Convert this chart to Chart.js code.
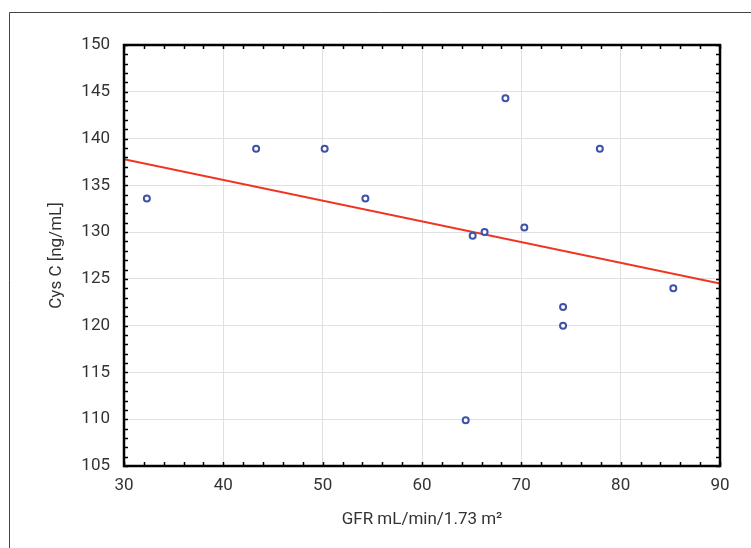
<!DOCTYPE html>
<html>
<head>
<meta charset="utf-8">
<script src="https://cdn.jsdelivr.net/npm/chart.js@4/dist/chart.umd.min.js"></script>
<style>
  html, body { margin: 0; padding: 0; background: #fff; }
  #wrap { width: 751px; height: 548px; }
</style>
</head>
<body>
<div id="wrap"><canvas id="chart" width="751" height="548"></canvas></div>
<script>
'use strict'

// GFR (x) vs Cys C (y)
var gfr = [32.3, 43.3, 50.2, 54.3, 65.1, 66.3, 68.4, 70.3, 77.9, 74.2, 74.2, 64.4, 85.3]
var cysC = [133.6, 138.9, 138.9, 133.6, 129.6, 130.0, 144.3, 130.5, 138.9, 122.0, 120.0, 109.9, 124.0]

// regression line end points
var fitX = [30, 90]
var fitY = [137.8, 124.5]

var xTicks = [30, 40, 50, 60, 70, 80, 90]
var yTicks = [105, 110, 115, 120, 125, 130, 135, 140, 145, 150]

var fontFamily = '"Liberation Sans Narrow", "Arial Narrow", Roboto, sans-serif'
var textColor = '#333'

// box frame with inward minor ticks, plus the outer figure frame
var framePlugin = {
  id: 'frame',
  afterDatasetsDraw: function(chart) {
    var ctx = chart.ctx
    var a = chart.chartArea
    var xs = chart.scales.x
    var ys = chart.scales.y
    ctx.save()
    ctx.strokeStyle = '#000'
    ctx.lineWidth = 1.5
    ctx.beginPath()
    for (var v = 30; v <= 90; v += 2) {
      var px = Math.round(xs.getPixelForValue(v)) + 0.5
      ctx.moveTo(px, a.bottom); ctx.lineTo(px, a.bottom - 4)
      ctx.moveTo(px, a.top); ctx.lineTo(px, a.top + 4)
    }
    for (var w = 105; w <= 150; w += 1) {
      var py = Math.round(ys.getPixelForValue(w)) + 0.5
      ctx.moveTo(a.left, py); ctx.lineTo(a.left + 4, py)
      ctx.moveTo(a.right, py); ctx.lineTo(a.right - 4, py)
    }
    ctx.stroke()
    ctx.lineWidth = 2.5
    ctx.strokeRect(a.left, a.top, a.right - a.left, a.bottom - a.top)
    ctx.lineWidth = 1
    ctx.strokeStyle = '#444'
    ctx.beginPath()
    ctx.moveTo(9.5, 548)
    ctx.lineTo(9.5, 12.5)
    ctx.lineTo(751, 12.5)
    ctx.stroke()
    ctx.restore()
  }
}

var ctx = document.getElementById('chart').getContext('2d')
var chart = new Chart(ctx, {
  type: 'scatter',
  data: {
    datasets: [
      {
        type: 'line',
        data: fitX.map(function(x, i) { return { x: x, y: fitY[i] } }),
        borderColor: '#ee3524',
        borderWidth: 2,
        pointRadius: 0,
        fill: false,
        order: 2
      },
      {
        data: gfr.map(function(x, i) { return { x: x, y: cysC[i] } }),
        pointStyle: 'circle',
        pointRadius: 3,
        pointBorderWidth: 2,
        borderColor: '#3d52a8',
        backgroundColor: '#fff',
        order: 1
      }
    ]
  },
  plugins: [framePlugin],
  options: {
    responsive: false,
    animation: false,
    layout: { padding: { left: 0, right: 31, top: 45, bottom: 0 } },
    plugins: { legend: { display: false }, tooltip: { enabled: false } },
    scales: {
      x: {
        type: 'linear',
        min: 30, max: 90,
        afterFit: function(scale) { scale.height = 82 },
        afterBuildTicks: function(scale) { scale.ticks = xTicks.map(function(v) { return { value: v } }) },
        grid: { color: '#e0e0e0', lineWidth: 1, drawTicks: false },
        border: { display: false },
        ticks: { color: textColor, padding: 10, font: { family: fontFamily, size: 17 } },
        title: {
          display: true,
          text: 'GFR mL/min/1.73 m²',
          color: textColor,
          font: { family: fontFamily, size: 17 },
          padding: { top: 0, bottom: 18 }
        }
      },
      y: {
        type: 'linear',
        min: 105, max: 150,
        afterFit: function(scale) { scale.width = 124 },
        afterBuildTicks: function(scale) { scale.ticks = yTicks.map(function(v) { return { value: v } }) },
        grid: { color: '#e0e0e0', lineWidth: 1, drawTicks: false },
        border: { display: false },
        ticks: { color: textColor, padding: 14, font: { family: fontFamily, size: 17 } },
        title: {
          display: true,
          text: 'Cys C [ng/mL]',
          color: textColor,
          font: { family: fontFamily, size: 17 },
          padding: { top: 47, bottom: 0 }
        }
      }
    }
  }
})
</script>
</body>
</html>
